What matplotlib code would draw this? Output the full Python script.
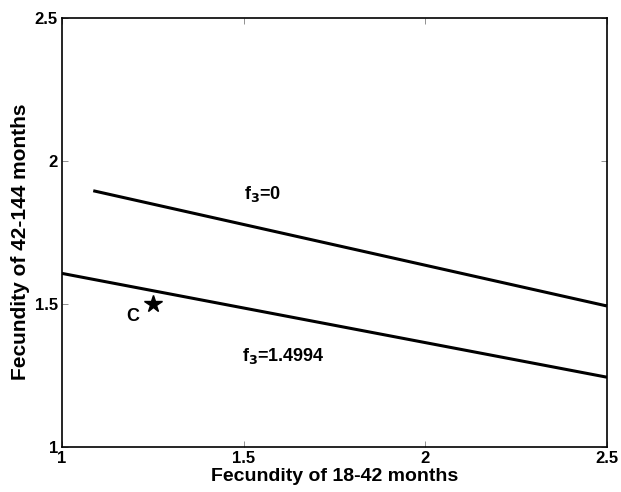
import matplotlib
matplotlib.use("Agg")
import matplotlib.pyplot as plt

# Data
line1_x = [1.086, 2.5]
line1_y = [1.896, 1.493]
line2_x = [1.0, 2.5]
line2_y = [1.607, 1.244]
point_c = (1.25, 1.5)
ticks = [1, 1.5, 2, 2.5]
tick_labels = ["1", "1.5", "2", "2.5"]

plt.rcParams['font.family'] = ['Liberation Sans', 'DejaVu Sans']
plt.rcParams['font.weight'] = 'bold'
plt.rcParams['mathtext.default'] = 'bf'

fig = plt.figure(figsize=(6.21, 4.92), dpi=100)
ax = fig.add_axes([62/621, 1-447/492, 545/621, 429/492])

ax.plot(line1_x, line1_y, color='black', lw=2.2, solid_capstyle='butt')
ax.plot(line2_x, line2_y, color='black', lw=2.2, solid_capstyle='butt')
ax.plot([point_c[0]], [point_c[1]], marker='*', color='black', markersize=13, ls='none')

ax.text(1.195, 1.457, "C", fontsize=13, fontweight='bold', ha='center', va='center')
ax.text(1.50, 1.885, r"f$_{3}$=0", fontsize=13, fontweight='bold', ha='left', va='center')
ax.text(1.495, 1.318, r"f$_{3}$=1.4994", fontsize=13, fontweight='bold', ha='left', va='center')

ax.set_xlim(1, 2.5)
ax.set_ylim(1, 2.5)
ax.set_xticks(ticks)
ax.set_xticklabels(tick_labels)
ax.set_yticks(ticks)
ax.set_yticklabels(tick_labels)
ax.tick_params(direction='in', length=4, width=0.6, color='gray', labelsize=12,
               top=True, right=True, pad=3)
for lab in ax.get_xticklabels() + ax.get_yticklabels():
    lab.set_fontweight('bold')
for s in ax.spines.values():
    s.set_linewidth(1.2)
ax.set_xlabel("Fecundity of 18-42 months", fontsize=14, fontweight='bold', labelpad=1)
ax.set_ylabel("Fecundity of 42-144 months", fontsize=15, fontweight='bold')
ax.yaxis.set_label_coords(-0.0587, 0.478)

fig.savefig("out.png", dpi=100)
